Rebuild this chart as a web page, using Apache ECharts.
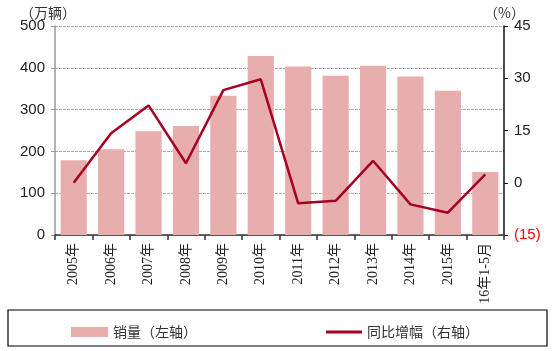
<!DOCTYPE html>
<html>
<head>
<meta charset="utf-8">
<script src="https://cdn.jsdelivr.net/npm/echarts@6/dist/echarts.min.js"></script>
<style>
html,body{margin:0;padding:0;background:#fff}
#chart{width:553px;height:351px}
</style>
</head>
<body>
<div id="chart"></div>
<script>
let chart = echarts.init(document.getElementById("chart"))

/** 数据 */
let years = ["2005年","2006年","2007年","2008年","2009年","2010年","2011年","2012年","2013年","2014年","2015年","16年1-5月"]
let sales = [179,205,248,261,333,428,403,381,405,379,345,151]
let growth = [0.0,14.2,22.2,5.6,26.6,29.7,-5.9,-5.2,6.3,-6.2,-8.6,2.4]
let leftTicks = [0,100,200,300,400,500]
let rightTicks = [-15,0,15,30,45]

let cjk = "'Noto Sans CJK SC', sans-serif"
let serif = "'Liberation Serif', 'Noto Sans CJK SC', serif"

chart.setOption({
    animation:false,
    backgroundColor:"#fff",
    grid:{left:55,right:49,top:26,bottom:116},
    legend:[
        {data:[{name:"销量（左轴）",icon:"rect"}],left:66,top:320,itemWidth:37,itemHeight:10,itemGap:6,
            textStyle:{fontFamily:cjk,fontSize:14,color:"#333"}},
        {data:[{name:"同比增幅（右轴）",icon:"rect"}],left:321,top:320,itemWidth:36,itemHeight:3,
            textStyle:{fontFamily:cjk,fontSize:14,color:"#333"}}
    ],
    graphic:[
        {type:"rect",shape:{x:8,y:310,width:539,height:36},
            style:{fill:"none",stroke:"#000",lineWidth:1.2}},
        {type:"text",left:20,top:6,style:{text:"（万辆）",font:"14px "+cjk,fill:"#333"}},
        {type:"text",left:484,top:6,style:{text:"（%）",font:"14px "+cjk,fill:"#333"}}
    ],
    xAxis:{
        type:"category",
        data:years,
        axisLine:{lineStyle:{color:"#333",width:1.5}},
        axisTick:{show:true,length:5,lineStyle:{color:"#333",width:1.5}},
        axisLabel:{rotate:90,fontFamily:serif,fontSize:14,color:"#222",margin:8}
    },
    yAxis:[
        {
            type:"value",min:leftTicks[0],max:leftTicks[leftTicks.length-1],interval:100,
            axisLine:{show:true,lineStyle:{color:"#999",width:1.5}},
            axisTick:{show:true,length:4,lineStyle:{color:"#999"}},
            axisLabel:{fontFamily:"'Liberation Sans', Arial, sans-serif",fontSize:15,color:"#222",margin:10},
            splitLine:{show:true,lineStyle:{color:"#aaa",type:[3,1],width:1}}
        },
        {
            type:"value",min:rightTicks[0],max:rightTicks[rightTicks.length-1],interval:15,
            axisLine:{show:true,lineStyle:{color:"#111",width:1.5}},
            axisTick:{show:true,length:4,lineStyle:{color:"#111"}},
            axisLabel:{
                fontFamily:"'Liberation Sans', Arial, sans-serif",fontSize:15,margin:10,
                formatter:v=>v<0?"("+(-v)+")":String(v),
                color:v=>Number(v)<0?"#ff0000":"#222"
            },
            splitLine:{show:false}
        }
    ],
    series:[
        {
            name:"销量（左轴）",type:"bar",data:sales,yAxisIndex:0,
            barCategoryGap:"30%",
            itemStyle:{color:"#e8aeae"}
        },
        {
            name:"同比增幅（右轴）",type:"line",data:growth,yAxisIndex:1,
            symbol:"none",
            lineStyle:{color:"#a50021",width:2.5},
            itemStyle:{color:"#a50021"}
        }
    ]
})
</script>
</body>
</html>
